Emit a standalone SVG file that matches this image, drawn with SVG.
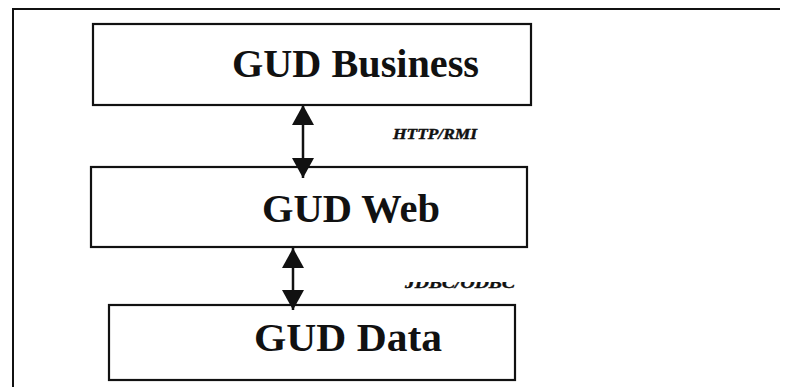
<svg xmlns="http://www.w3.org/2000/svg" width="789" height="387" viewBox="0 0 789 387">
  <style>
    .frame { fill: none; stroke: #111; stroke-width: 2; }
    .box { fill: #fff; stroke: #111; stroke-width: 2.2; }
    .title { font-family: "Liberation Serif", "Times New Roman", serif; font-weight: bold; font-size: 40px; fill: #111; }
    .proto { font-family: "Liberation Serif", "Times New Roman", serif; font-weight: bold; font-style: italic; font-size: 14px; fill: #111; stroke: #111; stroke-width: 0.4; }
    .link { stroke: #111; stroke-width: 2.5; fill: none; marker-start: url(#head); marker-end: url(#head); }
  </style>
  <defs>
    <marker id="head" viewBox="0 0 20 22" refX="20" refY="11" markerWidth="20" markerHeight="22" markerUnits="userSpaceOnUse" orient="auto-start-reverse">
      <path d="M0,0 L20,11 L0,22 z" fill="#111"/>
    </marker>
    <clipPath id="cutTop">
      <rect x="380" y="282" width="160" height="20"/>
    </clipPath>
  </defs>
  <rect width="789" height="387" fill="#fff"/>

  <!-- outer frame: top and left edges only -->
  <path class="frame" d="M13,387 L13,9 L780,9"/>

  <g id="gud-business">
    <rect class="box" x="93" y="24" width="438" height="81"/>
    <text class="title" x="232" y="77" textLength="247" lengthAdjust="spacingAndGlyphs">GUD Business</text>
  </g>

  <g id="gud-web">
    <rect class="box" x="91" y="167" width="436" height="80"/>
    <text class="title" x="262" y="222" textLength="178" lengthAdjust="spacingAndGlyphs">GUD Web</text>
  </g>

  <g id="gud-data">
    <rect class="box" x="109" y="305" width="406" height="75"/>
    <text class="title" x="254" y="351" textLength="188" lengthAdjust="spacingAndGlyphs">GUD Data</text>
  </g>

  <g id="connectors">
    <line class="link" x1="303" y1="105" x2="303" y2="178"/>
    <text class="proto" x="393" y="139" textLength="84" lengthAdjust="spacingAndGlyphs">HTTP/RMI</text>
    <line class="link" x1="293" y1="248" x2="293" y2="310"/>
    <text class="proto" x="405" y="288" textLength="110" lengthAdjust="spacingAndGlyphs" clip-path="url(#cutTop)">JDBC/ODBC</text>
  </g>
</svg>
